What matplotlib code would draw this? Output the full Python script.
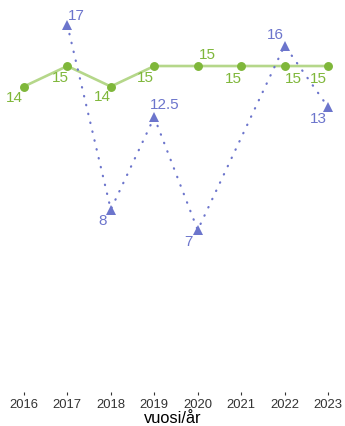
import matplotlib
matplotlib.use("Agg")
import matplotlib.pyplot as plt

plt.rcParams['font.family'] = ['Liberation Sans', 'DejaVu Sans']

years = [2016, 2017, 2018, 2019, 2020, 2021, 2022, 2023]
green_vals = [14, 15, 14, 15, 15, 15, 15, 15]
blue_years = [2017, 2018, 2019, 2020, 2022, 2023]
blue_vals = [17, 8, 12.5, 7, 16, 13]
green_labels = ["14", "15", "14", "15", "15", "15", "15", "15"]
blue_labels = ["17", "8", "12.5", "7", "16", "13"]
xlabel = "vuosi/år"

green_off = [(-6.5, -8), (-5, -8.3), (-5.8, -7.6), (-6.5, -8.3), (7.2, 7.6),
             (-5.8, -9.2), (6.1, -9.2), (-6.8, -9.2)]
blue_off = [(6.8, 6.8), (-6.1, -8.6), (7.2, 8.6), (-6.5, -8.6), (-6.5, 7.6), (-6.8, -8.6)]

GREEN_LINE = "#b5d78a"
GREEN = "#7fb73a"
BLUE = "#6c75cc"

fig = plt.figure(figsize=(3.45, 4.26), dpi=100)
H = 426.0
ax = fig.add_axes([0, 1 - 392 / H, 1, 392 / H])
ax.plot(years, green_vals, color=GREEN_LINE, lw=1.9, zorder=2)
ax.plot(years, green_vals, 'o', color=GREEN, ms=5.4, zorder=3)
ax.plot(blue_years, blue_vals, color=BLUE, lw=1.6, ls=(0, (0.2, 3.9)),
        dash_capstyle='round', zorder=2)
ax.plot(blue_years, blue_vals, '^', color=BLUE, ms=7.5, zorder=3, markeredgewidth=0)

for x, y, t, o in zip(years, green_vals, green_labels, green_off):
    ax.annotate(t, (x, y), xytext=o, textcoords='offset points', color=GREEN,
                fontsize=11, ha='center', va='center')
for x, y, t, o in zip(blue_years, blue_vals, blue_labels, blue_off):
    ax.annotate(t, (x, y), xytext=o, textcoords='offset points', color=BLUE,
                fontsize=11, ha='center', va='center')

ax.set_xlim(2015.45, 2023.39)
ax.set_ylim(-0.9, 18.22)
for s in ax.spines.values():
    s.set_visible(False)
ax.set_yticks([])
ax.set_xticks(years)
ax.set_xticklabels([str(y) for y in years], fontsize=9.4, color="#333333")
ax.tick_params(axis='x', length=2.2, width=0.8, color="#333333", pad=2.5)
ax.set_xlabel(xlabel, fontsize=11.75, color="black", labelpad=0.5)

fig.savefig("out.png", dpi=100)
